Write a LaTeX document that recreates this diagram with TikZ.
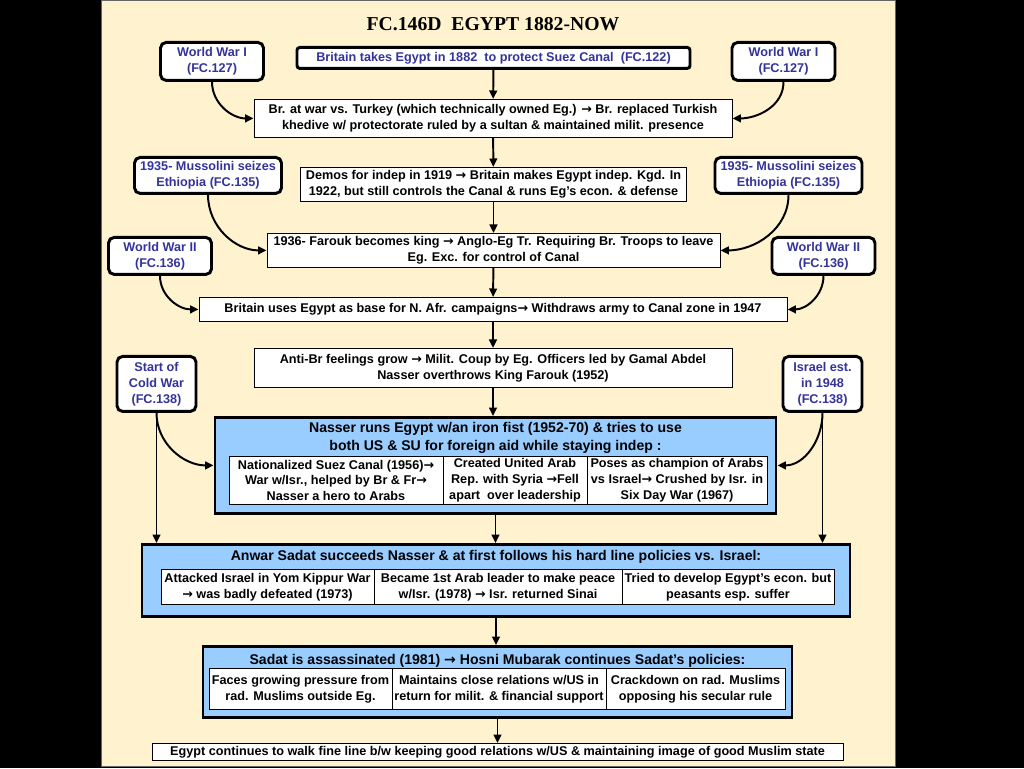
\documentclass[tikz,border=0pt]{standalone}
\usepackage{fontspec}
\setmainfont{Liberation Sans}
\newfontfamily\titlefont{Liberation Serif}
\newfontfamily\arrowfont{DejaVu Sans}
\newcommand\toarr{{\arrowfont →}}
\usetikzlibrary{arrows.meta}
\definecolor{paper}{HTML}{FFF2CE}
\definecolor{fcblue}{HTML}{333399}
\definecolor{boxblue}{HTML}{99CCFF}

\begin{document}
\begin{tikzpicture}[x=0.025cm,y=-0.025cm,
    sz/.style 2 args={minimum width=#1*0.025cm, minimum height=#2*0.025cm},
    txt/.style={font=\bfseries\fontsize{9}{11.3}\selectfont, align=center, inner sep=0pt},
    mainbox/.style={txt, draw, fill=white, line width=0.7pt},
    fcbox/.style={txt, draw, fill=white, text=fcblue, line width=2.1pt, rounded corners=4pt},
    bluebox/.style={draw, fill=boxblue, line width=2.1pt, inner sep=0pt},
    bluetitle/.style={font=\bfseries\fontsize{10}{12.2}\selectfont, align=center, inner sep=0pt},
    arr/.style={line width=1.4pt, -{Triangle[length=6pt,width=5.5pt]}}]

		% page
		\fill [black] (0,0) rectangle (1024,768);
		\draw [fill=paper, draw=black!60, line width=0.6pt] (101,0) rectangle (895,766);
		
		\node [font=\titlefont\bfseries\fontsize{14}{17}\selectfont] (title) at (493,24) {FC.146D\ \ EGYPT 1882-NOW};
		
		% main column
		\node [fcbox, rounded corners=2pt, sz={393}{21}] (brit) at (493.5,57.5) {Britain takes Egypt in 1882\ \ to protect Suez Canal\ \ (FC.122)};
		\node [mainbox, sz={478}{38}] (war) at (493,118) {Br. at war vs. Turkey (which technically owned Eg.) \toarr{} Br. replaced Turkish\\ khedive w/ protectorate ruled by a sultan \& maintained milit. presence};
		\node [mainbox, sz={386}{34}] (demos) at (493.5,184) {Demos for indep in 1919 \toarr{} Britain makes Egypt indep. Kgd. In\\ 1922, but still controls the Canal \& runs Eg’s econ. \& defense};
		\node [mainbox, sz={453}{34}] (farouk) at (493.5,250) {1936- Farouk becomes king \toarr{} Anglo-Eg Tr. Requiring Br. Troops to leave\\ Eg. Exc. for control of Canal};
		\node [mainbox, sz={588}{24}] (base) at (493,309) {Britain uses Egypt as base for N. Afr. campaigns\toarr{} Withdraws army to Canal zone in 1947};
		\node [mainbox, sz={478}{39}] (coup) at (493,367.5) {Anti-Br feelings grow \toarr{} Milit. Coup by Eg. Officers led by Gamal Abdel\\ Nasser overthrows King Farouk (1952)};
		
		% side boxes
		\node [fcbox, sz={103}{38}] (wwiL) at (212,61) {World War I\\ (FC.127)};
		\node [fcbox, sz={103}{38}] (wwiR) at (783.5,61) {World War I\\ (FC.127)};
		\node [fcbox, sz={147}{36}] (mussL) at (208,175) {1935- Mussolini seizes\\ Ethiopia (FC.135)};
		\node [fcbox, sz={147}{36}] (mussR) at (788.5,175) {1935- Mussolini seizes\\ Ethiopia (FC.135)};
		\node [fcbox, sz={103}{37}] (wwiiL) at (160,255.5) {World War II\\ (FC.136)};
		\node [fcbox, sz={103}{37}] (wwiiR) at (823.5,255.5) {World War II\\ (FC.136)};
		\node [fcbox, sz={79}{55}] (cold) at (156.5,383.5) {Start of\\ Cold War\\ (FC.138)};
		\node [fcbox, sz={79}{55}] (israel) at (822.5,383.5) {Israel est.\\ in 1948\\ (FC.138)};
		
		% Nasser
		\node [bluebox, sz={561}{96}] (nasser) at (495.5,465) {};
		\node [bluetitle] (nassertitle) at (495.5,437.5) {Nasser runs Egypt w/an iron fist (1952-70) \& tries to use\\ both US \& SU for foreign aid while staying indep :};
		\node [mainbox, sz={214}{48}] (suez) at (336,480) {Nationalized Suez Canal (1956)\toarr\\ War w/Isr., helped by Br \& Fr\toarr\\ Nasser a hero to Arabs};
		\node [mainbox, sz={144}{48}] (uar) at (515,480) {Created United Arab\\ Rep. with Syria \toarr{}Fell\\ apart\ \ over leadership};
		\node [mainbox, sz={180}{48}] (champ) at (677,480) {Poses as champion of Arabs\\ vs Israel\toarr{} Crushed by Isr. in\\ Six Day War (1967)};
		
		% Sadat
		\node [bluebox, sz={708}{72}] (sadat) at (496,580) {};
		\node [bluetitle] (sadattitle) at (496,556) {Anwar Sadat succeeds Nasser \& at first follows his hard line policies vs. Israel:};
		\node [mainbox, sz={213}{35}] (yom) at (267.5,586.5) {Attacked Israel in Yom Kippur War\\ \toarr{} was badly defeated (1973)};
		\node [mainbox, sz={248}{35}] (peace) at (498,586.5) {Became 1st Arab leader to make peace\\ w/Isr. (1978) \toarr{} Isr. returned Sinai};
		\node [mainbox, sz={212}{35}] (econ) at (728,586.5) {Tried to develop Egypt’s econ. but\\ peasants esp. suffer};
		
		% Mubarak
		\node [bluebox, sz={589}{71}] (mubarak) at (497.5,681.5) {};
		\node [bluetitle] (mubaraktitle) at (497.5,660) {Sadat is assassinated (1981) \toarr{} Hosni Mubarak continues Sadat’s policies:};
		\node [mainbox, sz={183}{41}] (press) at (300.5,688.5) {Faces growing pressure from\\ rad. Muslims outside Eg.};
		\node [mainbox, sz={214}{41}] (close) at (499,688.5) {Maintains close relations w/US in\\ return for milit. \& financial support};
		\node [mainbox, sz={179}{41}] (crack) at (695.5,688.5) {Crackdown on rad. Muslims\\ opposing his secular rule};
		
		\node [mainbox, sz={691}{17}] (line) at (497.5,751.5) {Egypt continues to walk fine line b/w keeping good relations w/US \& maintaining image of good Muslim state};
		
		% trunk
		\draw [arr] (brit) -- (war);
		\draw [arr] (war) -- (demos);
		\draw [arr] (demos) -- (farouk);
		\draw [arr] (farouk) -- (base);
		\draw [arr] (base) -- (coup);
		\draw [arr] (coup.south) -- (coup.south |- nasser.north);
		\draw [arr] (nasser.south) -- (nasser.south |- sadat.north);
		\draw [arr] (sadat.south) -- (sadat.south |- mubarak.north);
		\draw [arr] (mubarak.south) -- (mubarak.south |- line.north);
		
		% side arrows
		\draw [arr] (wwiL.south) to [out=-90, in=180] (war.west);
		\draw [arr] (wwiR.south) to [out=-90, in=0] (war.east);
		\draw [arr] (mussL.south) to [out=-90, in=180] (farouk.west);
		\draw [arr] (mussR.south) to [out=-90, in=0] (farouk.east);
		\draw [arr] (wwiiL.south) to [out=-90, in=180] (base.west);
		\draw [arr] (wwiiR.south) to [out=-90, in=0] (base.east);
		\draw [arr] (cold.south) to [out=-90, in=180] (nasser.west);
		\draw [arr] (israel.south) to [out=-90, in=0] (nasser.east);
		\draw [arr] (cold.south) -- (cold.south |- sadat.north);
		\draw [arr] (israel.south) -- (israel.south |- sadat.north);
		
\end{tikzpicture}
\end{document}
